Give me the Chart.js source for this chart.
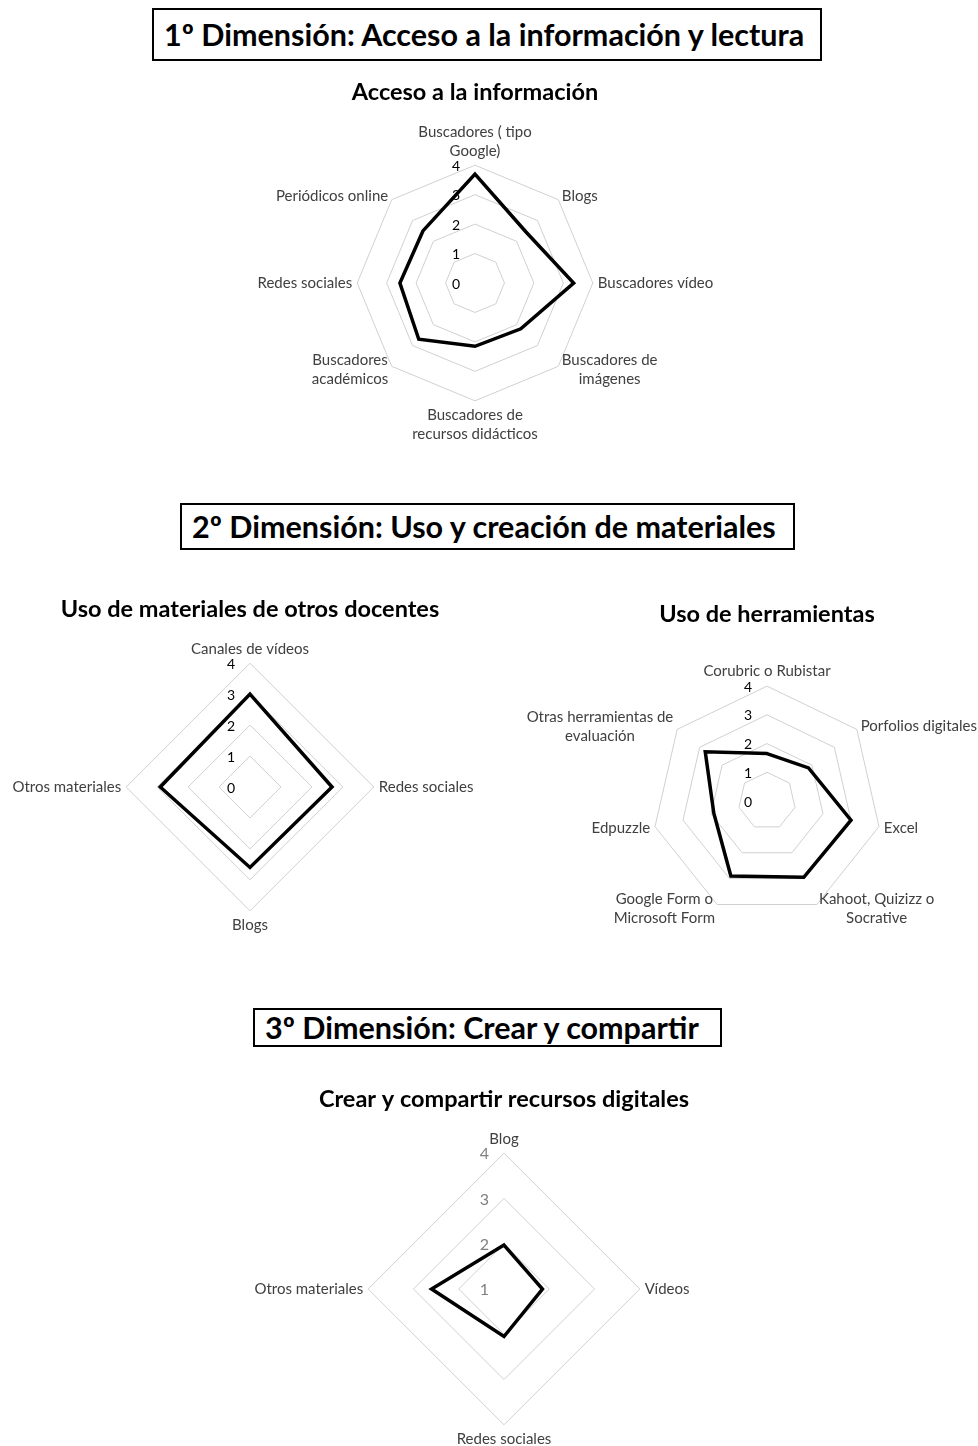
<!DOCTYPE html>
<html lang="es">
<head>
<meta charset="utf-8">
<title>Dimensiones</title>
<script src="https://cdn.jsdelivr.net/npm/chart.js@4.4.1/dist/chart.umd.min.js"></script>
<style>
  html, body { margin: 0; padding: 0; background: #fff; overflow: hidden; }
  .page { position: relative; width: 978px; height: 1446px; overflow: hidden; }
  .dim-box {
    position: absolute;
    box-sizing: border-box;
    border: 2px solid #000;
    font-family: 'Lato', 'Open Sans', sans-serif;
    font-weight: 700;
    font-size: 30.5px;
    line-height: 1;
    color: #000;
    white-space: nowrap;
    display: flex;
    align-items: center;
    padding-left: 10px;
  }
  .chart-wrap { position: absolute; }
</style>
</head>
<body>
<div class="page">
  <div class="dim-box" style="left:152px;top:8px;width:670px;height:53px;">1º Dimensión: Acceso a la información y lectura</div>
  <div class="dim-box" style="left:180px;top:503px;width:615px;height:47px;">2º Dimensión: Uso y creación de materiales</div>
  <div class="dim-box" style="left:253px;top:1008px;width:469px;height:39px;">3º Dimensión: Crear y compartir</div>

  <div class="chart-wrap" style="left:175px;top:68px;width:600px;height:374px;"><canvas id="chartAcceso"></canvas></div>
  <div class="chart-wrap" style="left:-15px;top:585px;width:530px;height:349px;"><canvas id="chartMateriales"></canvas></div>
  <div class="chart-wrap" style="left:506px;top:590px;width:522px;height:358px;"><canvas id="chartHerramientas"></canvas></div>
  <div class="chart-wrap" style="left:224px;top:1075px;width:560px;height:373px;"><canvas id="chartCrear"></canvas></div>
</div>

<script>
/* ---- data ---- */
const accesoLabels = [
  ['Buscadores ( tipo', 'Google)'],
  'Blogs',
  'Buscadores vídeo',
  ['Buscadores de', 'imágenes'],
  ['Buscadores de', 'recursos didácticos'],
  ['Buscadores', 'académicos'],
  'Redes sociales',
  'Periódicos online',
];
const accesoValues = [3.7, 2.45, 3.35, 2.2, 2.15, 2.7, 2.55, 2.5];

const materialesLabels = ['Canales de vídeos', 'Redes sociales', 'Blogs', 'Otros materiales'];
const materialesValues = [3.0, 2.65, 2.6, 2.9];

const herramientasLabels = [
  'Corubric o Rubistar',
  'Porfolios digitales',
  'Excel',
  ['Kahoot, Quizizz o', 'Socrative'],
  ['Google Form o', 'Microsoft Form'],
  'Edpuzzle',
  ['Otras herramientas de', 'evaluación'],
];
const herramientasValues = [1.65, 1.85, 3.0, 2.95, 2.9, 1.9, 2.75];

const crearLabels = ['Blog', 'Vídeos', 'Redes sociales', 'Otros materiales'];
const crearValues = [1.97, 1.85, 2.05, 2.6];

const FONT = "'Lato', 'Open Sans', sans-serif";
const LABEL_SIZE = 15;
const LABEL_LINE = 19;
const LABEL_COLOR = '#404040';

// Excel-style tick numbers, sitting just left of the vertical axis
const tickLabelPlugin = {
  id: 'tickLabels',
  beforeDatasetsDraw(chart, args, opts) {
    const s = chart.scales.r;
    const ctx = chart.ctx;
    ctx.save();
    ctx.font = `${opts.size}px ${FONT}`;
    ctx.fillStyle = opts.color;
    ctx.textAlign = 'right';
    ctx.textBaseline = 'middle';
    s.ticks.forEach(t => {
      const d = s.getDistanceFromCenterForValue(t.value);
      ctx.fillText(String(t.value), s.xCenter - 15, s.yCenter - d + 1);
    });
    ctx.restore();
  },
};

// Category labels placed the way Excel does: side labels centred on the
// spoke's height, lines of a wrapped label centred on each other.
// Chart.js still sizes the radius from its own (transparent) point labels.
const excelPointLabels = {
  id: 'excelPointLabels',
  afterDatasetsDraw(chart) {
    const s = chart.scales.r;
    const ctx = chart.ctx;
    const labels = chart.data.labels;
    const n = labels.length;
    ctx.save();
    ctx.font = `${LABEL_SIZE}px ${FONT}`;
    ctx.fillStyle = LABEL_COLOR;
    ctx.textAlign = 'center';
    ctx.textBaseline = 'middle';
    labels.forEach((label, i) => {
      const lines = Array.isArray(label) ? label : [label];
      const w = Math.max(...lines.map(l => ctx.measureText(l).width));
      const h = lines.length * LABEL_LINE;
      const pos = s.getPointPosition(i, s.drawingArea + 5);
      const angle = Math.round((i * 360 / n) % 360);
      let top;
      if (angle === 0) top = pos.y - h;
      else if (angle === 180) top = pos.y;
      else top = pos.y - h / 2;
      let cx;
      if (angle === 0 || angle === 180) cx = pos.x;
      else if (angle < 180) cx = pos.x + w / 2;
      else cx = pos.x - w / 2;
      lines.forEach((l, k) => ctx.fillText(l, cx, top + LABEL_LINE * k + LABEL_LINE / 2));
    });
    ctx.restore();
  },
};

function makeRadar(id, title, labels, values, opts) {
  const ctx = document.getElementById(id).getContext('2d');
  return new Chart(ctx, {
    type: 'radar',
    data: {
      labels,
      datasets: [{
        data: values,
        borderColor: '#000',
        borderWidth: 3.5,
        borderJoinStyle: 'miter',
        pointRadius: 0,
        fill: false,
        tension: 0,
      }],
    },
    options: {
      responsive: true,
      maintainAspectRatio: false,
      animation: false,
      plugins: {
        legend: { display: false },
        tooltip: { enabled: false },
        title: {
          display: true,
          text: title,
          color: '#000',
          font: { family: FONT, size: 23.5, weight: 'bold' },
          padding: { top: 10, bottom: opts.titleGap },
        },
        tickLabels: { size: opts.tickSize, color: opts.tickColor },
      },
      scales: {
        r: {
          min: opts.min,
          max: 4,
          ticks: { stepSize: 1, display: false },
          grid: { color: '#d0d0d0', lineWidth: 1 },
          angleLines: { display: false },
          pointLabels: {
            color: 'rgba(0,0,0,0)',
            font: { family: FONT, size: LABEL_SIZE },
            padding: 5,
          },
        },
      },
    },
    plugins: [tickLabelPlugin, excelPointLabels],
  });
}

makeRadar('chartAcceso', 'Acceso a la información', accesoLabels, accesoValues,
  { min: 0, titleGap: 18, tickSize: 14, tickColor: '#000' });
makeRadar('chartMateriales', 'Uso de materiales de otros docentes', materialesLabels, materialesValues,
  { min: 0, titleGap: 17, tickSize: 14, tickColor: '#000' });
makeRadar('chartHerramientas', 'Uso de herramientas', herramientasLabels, herramientasValues,
  { min: 0, titleGap: 32, tickSize: 14, tickColor: '#000' });
makeRadar('chartCrear', 'Crear y compartir recursos digitales', crearLabels, crearValues,
  { min: 1, titleGap: 17, tickSize: 16, tickColor: '#808080' });
</script>
</body>
</html>
